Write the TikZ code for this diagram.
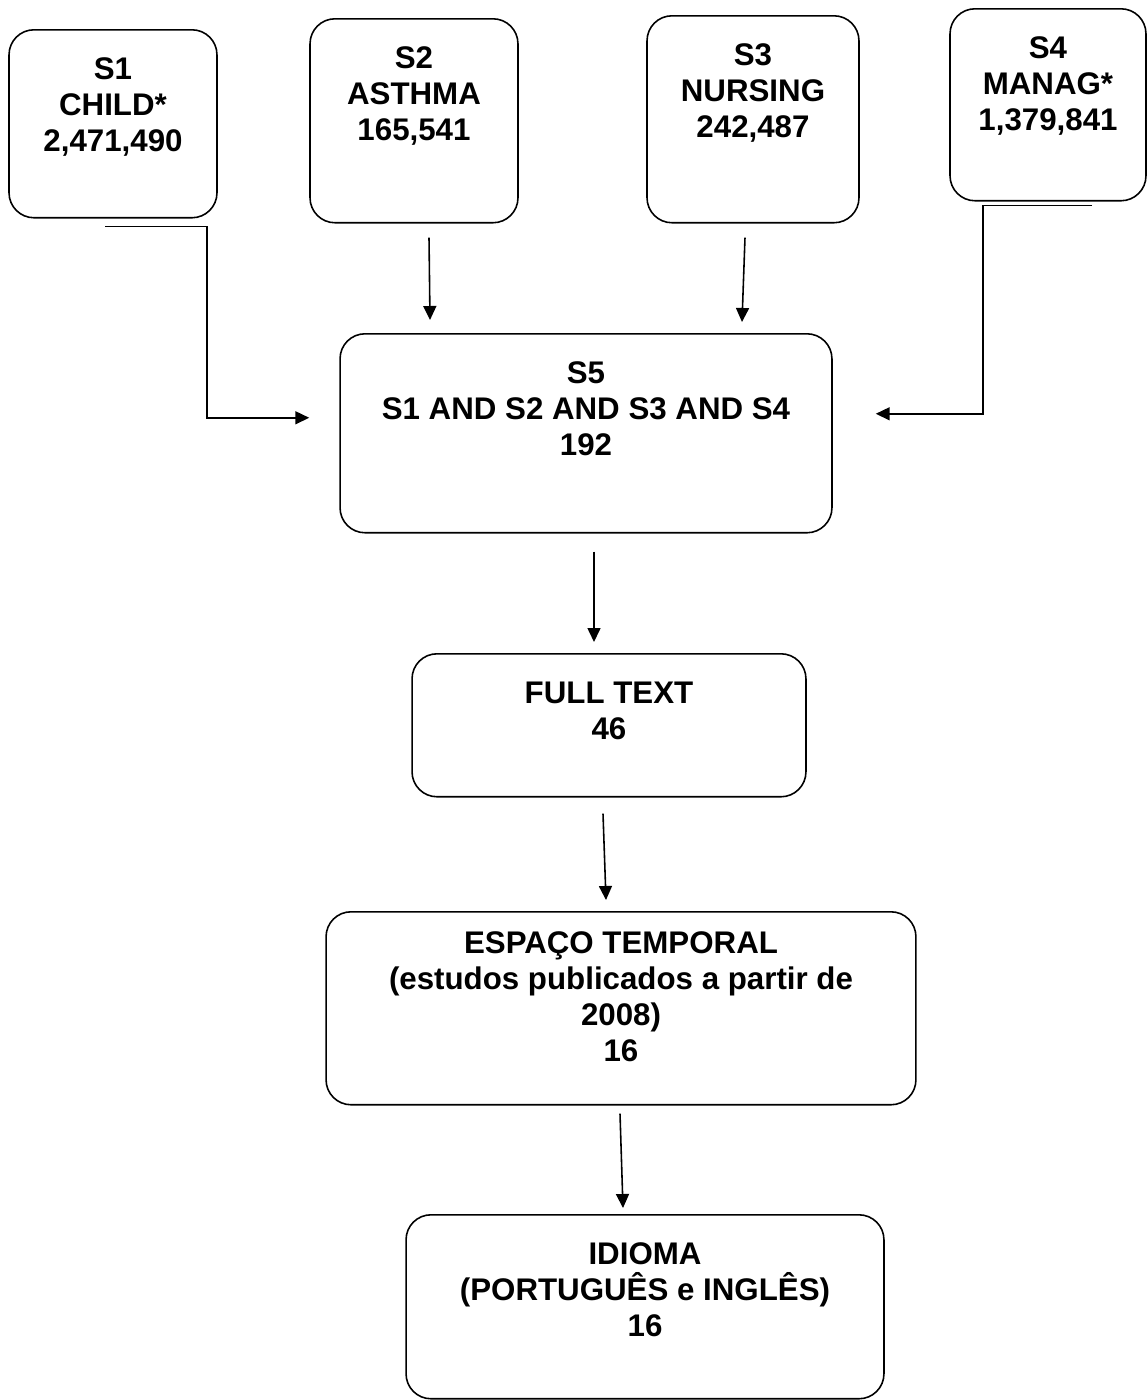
\documentclass[tikz,border=0pt]{standalone}
\usepackage{fontspec}
\setmainfont{Liberation Sans}
\usetikzlibrary{arrows.meta, calc}

\begin{document}
\begin{tikzpicture}[
  x=0.02cm, y=-0.02cm,
  stage/.style={draw, rounded corners=0.5cm, line width=0.9pt, inner sep=0pt,
                anchor=north, align=flush center, text height=1cm,
                font=\fontsize{17.8pt}{20.5pt}\selectfont\bfseries},
  arr/.style={-{Triangle[length=0.28cm, width=0.26cm]}, line width=0.9pt},
]
\useasboundingbox (0,0) rectangle (1148,1400);

% === Nodes ===

% Search terms
\node[stage, text width=4.16cm, text depth=2.76cm] (s1) at (113,29) {S1\\CHILD*\\2,471,490};
\node[stage, text width=4.16cm, text depth=3.08cm] (s2) at (414,18) {S2\\ASTHMA\\165,541};
\node[stage, text width=4.24cm, text depth=3.14cm] (s3) at (753,15) {S3\\NURSING\\242,487};
\node[stage, text width=3.92cm, text depth=2.84cm] (s4) at (1048,8) {S4\\MANAG*\\1,379,841};

% Combined search
\node[stage, text width=9.84cm, text depth=2.98cm] (s5) at (586,333) {S5\\S1 AND S2 AND S3 AND S4\\192};

% Filters
\node[stage, text width=7.88cm, text depth=1.86cm] (full) at (609,653) {FULL TEXT\\46};
\node[stage, text width=11.8cm, text height=0.84cm, text depth=3.02cm] (tempo) at (621,911)
  {ESPAÇO TEMPORAL\\(estudos publicados a partir de\\2008)\\16};
\node[stage, text width=9.56cm, text depth=2.68cm] (idioma) at (645,1214)
  {IDIOMA\\(PORTUGUÊS e INGLÊS)\\16};

% === Arrows ===

% Elbows from S1 and S4
\coordinate (s1out) at ($(s1.south)+(-8,8)$);
\coordinate (s4out) at ($(s4.south)+(44,4)$);
\draw[arr] (s1out) -- ++(102,0) |- ($(s5.west)+(-30,-15.5)$);
\draw[arr] (s4out) -- ++(-109,0) |- ($(s5.east)+(43,-19.5)$);

% Straight down into S5
\draw[arr] ($(s2.south)+(15,14)$) -- ($(s5.north)+(-156,-13)$);
\draw[arr] ($(s3.south)+(-8,14)$) -- ($(s5.north)+(156,-11)$);

% Down the chain
\draw[arr] ($(s5.south)+(8,18)$) -- ($(full.north)+(-15,-11)$);
\draw[arr] ($(full.south)+(-6,16)$) -- ($(tempo.north)+(-15,-11)$);
\draw[arr] ($(tempo.south)+(-1,8)$) -- ($(idioma.north)+(-22,-6)$);

\end{tikzpicture}
\end{document}
